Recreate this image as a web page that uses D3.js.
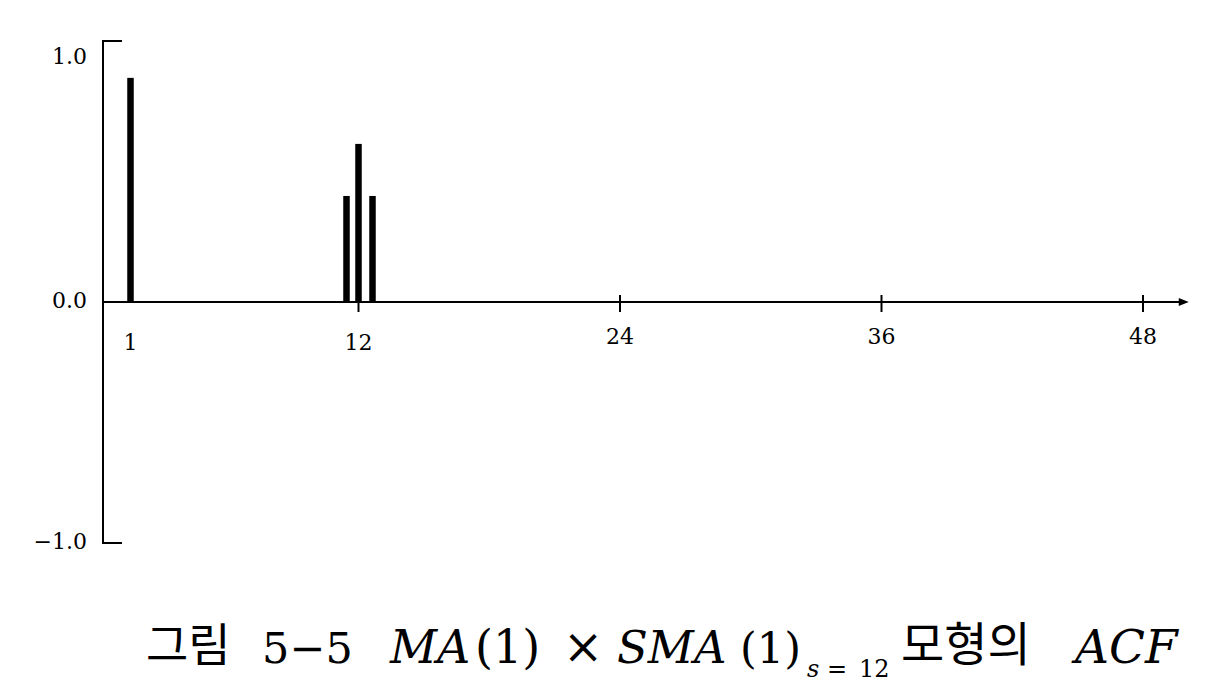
<!DOCTYPE html>
<html><head><meta charset="utf-8">
<script src="https://cdn.jsdelivr.net/npm/d3@7"></script>
<style>
html,body{margin:0;padding:0;background:#fff;}
svg{display:block;}
.serif{font-family:"DejaVu Serif",serif;}
.kr{font-family:"Noto Sans CJK KR",sans-serif;}
</style></head>
<body>
<script>
// Data
const lags = [1, 11, 12, 13];
const acfValues = [0.93, 0.44, 0.656, 0.44];
const xTickValues = [12, 24, 36, 48];
const xTickLabels = ["1", "12", "24", "36", "48"];
const xLabelLags = [1, 12, 24, 36, 48];
const yTickValues = [1, 0, -1];
const yTickLabels = ["1.0", "0.0", "\u22121.0"];

const W = 1218, H = 688;
const svg = d3.select("body").append("svg").attr("width", W).attr("height", H);

// Schematic (piecewise) lag scale, as in the original figure
const x = d3.scaleLinear()
  .domain([0, 1, 11, 12, 13, 24, 36, 48])
  .range([103, 130.5, 346.5, 358.5, 372.5, 620, 881.5, 1143]);
const y = d3.scaleLinear().domain([-1, 1]).range([543, 61]);

const yTop = 1.083, xEnd = 50.1;
const ink = "#000";

// Y axis bracket
svg.append("path")
  .attr("d", `M${x(0)+19},${y(yTop)} H${x(0)} V${y(-1)} H${x(0)+19}`)
  .attr("fill", "none").attr("stroke", ink).attr("stroke-width", 2);

// X axis line
svg.append("line")
  .attr("x1", x(0)).attr("x2", x(xEnd) - 6)
  .attr("y1", y(0)).attr("y2", y(0))
  .attr("stroke", ink).attr("stroke-width", 2);
// arrow head
const ax = x(xEnd), ay = y(0);
svg.append("path")
  .attr("d", `M${ax},${ay} L${ax-10},${ay-4} L${ax-10},${ay+4} Z`)
  .attr("fill", ink);

// X ticks
svg.selectAll(".xt").data(xTickValues).enter().append("line")
  .attr("x1", d => x(d)).attr("x2", d => x(d))
  .attr("y1", y(0) - 7).attr("y2", y(0) + 10)
  .attr("stroke", ink).attr("stroke-width", 2);

// X labels
svg.selectAll(".xl").data(xLabelLags).enter().append("text")
  .attr("class", "serif")
  .attr("x", d => x(d)).attr("y", (d, i) => y(0) + (i < 2 ? 48 : 42))
  .attr("text-anchor", "middle")
  .attr("font-size", 22)
  .attr("fill", ink)
  .text((d, i) => xTickLabels[i]);

// Y labels
svg.selectAll(".yl").data(yTickValues).enter().append("text")
  .attr("class", "serif")
  .attr("x", x(0) - 16).attr("y", d => y(d) + (d === 1 ? 3 : 6))
  .attr("text-anchor", "end")
  .attr("font-size", 22)
  .attr("fill", ink)
  .text((d, i) => yTickLabels[i]);

// Bars
const bw = 6.5;
svg.selectAll(".bar").data(lags).enter().append("rect")
  .attr("x", d => x(d) - bw / 2)
  .attr("y", (d, i) => y(acfValues[i]))
  .attr("width", bw)
  .attr("height", (d, i) => y(0) - y(acfValues[i]))
  .attr("fill", ink);

// Title
const tY = 663;
function t(str, xx, yy, cls, size, italic, ls) {
  svg.append("text").attr("class", cls).attr("x", xx).attr("y", yy)
    .attr("font-size", size)
    .attr("font-style", italic ? "italic" : "normal")
    .attr("letter-spacing", ls || 0)
    .attr("fill", ink).text(str);
}
t("그림", 146, tY - 2, "kr", 46, false);
t("5\u22125", 262, tY, "serif", 43, false);
t("MA", 390, tY, "serif", 46, true);
t("(1)", 475, tY, "serif", 46, false);
t("\u00d7", 563, tY, "serif", 48, false);
t("SMA", 617, tY, "serif", 45, true);
t("(1)", 740, tY, "serif", 43, false);
t("s", 807, 677, "serif", 24, true);
t("=", 827, 677, "serif", 24, false);
t("12", 859, 677, "serif", 24, false);
t("모형의", 901, tY - 2, "kr", 47, false);
t("ACF", 1075, tY, "serif", 47, true);
</script>
</body></html>
